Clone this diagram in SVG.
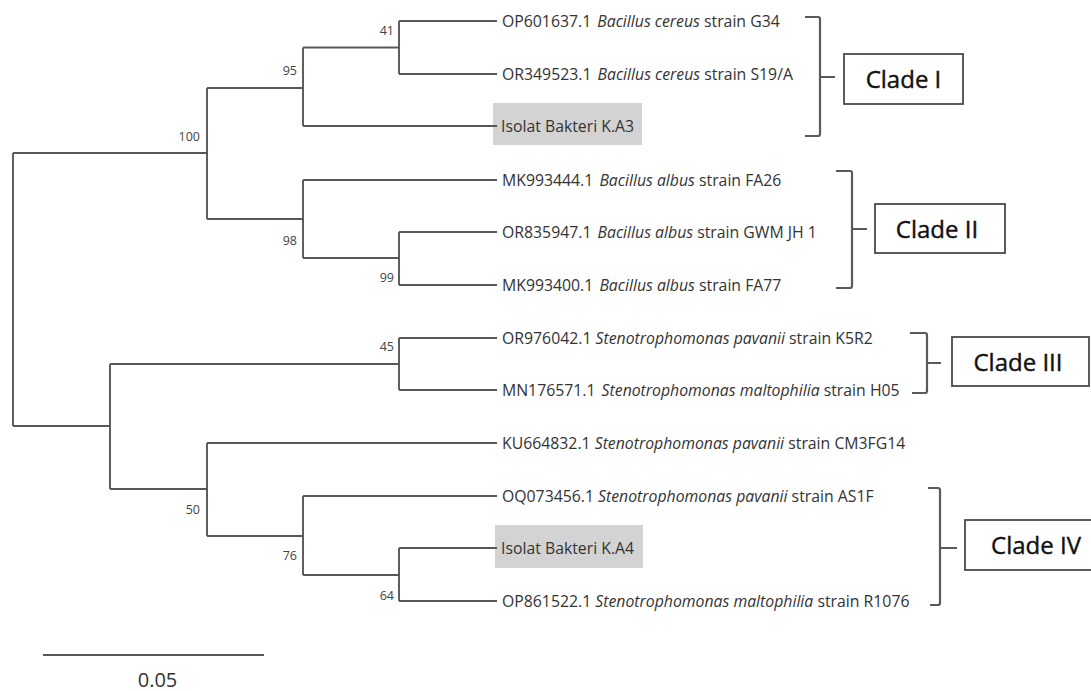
<svg xmlns="http://www.w3.org/2000/svg" width="1091" height="691" viewBox="0 0 1091 691">
<style>
.leaf{font-family:"Open Sans","Liberation Sans",sans-serif;font-size:15.8px;fill:#333}
.sp{font-style:italic}
.bs{font-family:"Open Sans","Liberation Sans",sans-serif;font-size:12.5px;fill:#444;text-anchor:end}
.br{fill:none;stroke:#5a5a5a;stroke-width:2.2}
.tree{fill:none;stroke:#585858;stroke-width:1.9}
.hl{fill:#d3d3d3}
.cbox{fill:#fff;stroke:#4a4a4a;stroke-width:1.8}
.clab{font-family:"Open Sans","Liberation Sans",sans-serif;font-size:24px;fill:#111;text-anchor:middle;stroke:#111;stroke-width:0.4}
</style>
<rect width="1091" height="691" fill="#fff"/>

<g id="leaf-OP601637"><text class="leaf" x="502" y="26.5">OP601637.1 <tspan class="sp" dx="2">Bacillus cereus</tspan> strain G34</text></g>
<g id="leaf-OR349523"><text class="leaf" x="502" y="79.5">OR349523.1 <tspan class="sp" dx="2">Bacillus cereus</tspan> strain S19/A</text></g>
<g id="leaf-KA3"><rect class="hl" x="493" y="103" width="149" height="42"/><text class="leaf" x="501" y="131.5">Isolat Bakteri K.A3</text></g>
<g id="leaf-MK993444"><text class="leaf" x="502" y="185.5">MK993444.1 <tspan class="sp" dx="2">Bacillus albus</tspan> strain FA26</text></g>
<g id="leaf-OR835947"><text class="leaf" x="502" y="237.5">OR835947.1 <tspan class="sp" dx="2">Bacillus albus</tspan> strain GWM JH 1</text></g>
<g id="leaf-MK993400"><text class="leaf" x="502" y="290.5">MK993400.1 <tspan class="sp" dx="2">Bacillus albus</tspan> strain FA77</text></g>
<g id="leaf-OR976042"><text class="leaf" x="502" y="343.5">OR976042.1 <tspan class="sp">Stenotrophomonas pavanii</tspan> strain K5R2</text></g>
<g id="leaf-MN176571"><text class="leaf" x="502" y="395.5">MN176571.1 <tspan class="sp" dx="2">Stenotrophomonas maltophilia</tspan> strain H05</text></g>
<g id="leaf-KU664832"><text class="leaf" x="502" y="448.5">KU664832.1 <tspan class="sp">Stenotrophomonas pavanii</tspan> strain CM3FG14</text></g>
<g id="leaf-OQ073456"><text class="leaf" x="502" y="501.5">OQ073456.1 <tspan class="sp">Stenotrophomonas pavanii</tspan> strain AS1F</text></g>
<g id="leaf-KA4"><rect class="hl" x="495" y="525" width="148" height="43"/><text class="leaf" x="501" y="553.5">Isolat Bakteri K.A4</text></g>
<g id="leaf-OP861522"><text class="leaf" x="502" y="606.5">OP861522.1 <tspan class="sp">Stenotrophomonas maltophilia</tspan> strain R1076</text></g>

<g id="bootstrap">
<text class="bs" x="394" y="35">41</text>
<text class="bs" x="297" y="74.5">95</text>
<text class="bs" x="200" y="140.5">100</text>
<text class="bs" x="297" y="244.5">98</text>
<text class="bs" x="394" y="282">99</text>
<text class="bs" x="394" y="351">45</text>
<text class="bs" x="200" y="513.5">50</text>
<text class="bs" x="297" y="560">76</text>
<text class="bs" x="394" y="599.5">64</text>
</g>

<g id="connectors" class="tree">
<path d="M13,153 V426"/>
<path d="M13,153 H207 M207,88 V219"/>
<path d="M207,88 H303 M303,47.5 V126"/>
<path d="M303,47.5 H399 M399,21 V74 M399,21 H497 M399,74 H497 M303,126 H497"/>
<path d="M207,219 H303 M303,180 V258 M303,180 H497"/>
<path d="M303,258 H399 M399,232 V285 M399,232 H497 M399,285 H497"/>
<path d="M13,426 H110 M110,364 V489"/>
<path d="M110,364 H399 M399,338 V390 M399,338 H497 M399,390 H497"/>
<path d="M110,489 H207 M207,443 V536 M207,443 H497"/>
<path d="M207,536 H303 M303,496 V575 M303,496 H497"/>
<path d="M303,575 H399 M399,548 V601 M399,548 H497 M399,601 H497"/>
</g>

<g id="clade-I">
<path class="br" d="M805,17 H818 Q820,17 820,19 V134 Q820,136 818,136 H805 M820,77 H835"/>
<rect class="cbox" x="844" y="54" width="119" height="50"/>
<text class="clab" x="903.5" y="87.5">Clade I</text>
</g>
<g id="clade-II">
<path class="br" d="M836,171 H850 Q852,171 852,173 V286 Q852,288 850,288 H836 M852,229 H867"/>
<rect class="cbox" x="875" y="204" width="130" height="49"/>
<text class="clab" x="937" y="237.5">Clade II</text>
</g>
<g id="clade-III">
<path class="br" d="M910,333 H925 Q927,333 927,335 V391 Q927,393 925,393 H912 M927,363 H941"/>
<rect class="cbox" x="952" y="337" width="137" height="49"/>
<text class="clab" x="1018" y="370.5">Clade III</text>
</g>
<g id="clade-IV">
<path class="br" d="M928,488 H938 Q940,488 940,490 V603 Q940,605 938,605 H930 M940,548 H957"/>
<rect class="cbox" x="965" y="520" width="140" height="50"/>
<text class="clab" x="1036" y="553.5">Clade IV</text>
</g>

<g id="scale-bar">
<path class="tree" d="M43,655 H264"/>
<text x="157.5" y="687" font-family="Open Sans, Liberation Sans, sans-serif" font-size="20" fill="#333" text-anchor="middle">0.05</text>
</g>
</svg>
